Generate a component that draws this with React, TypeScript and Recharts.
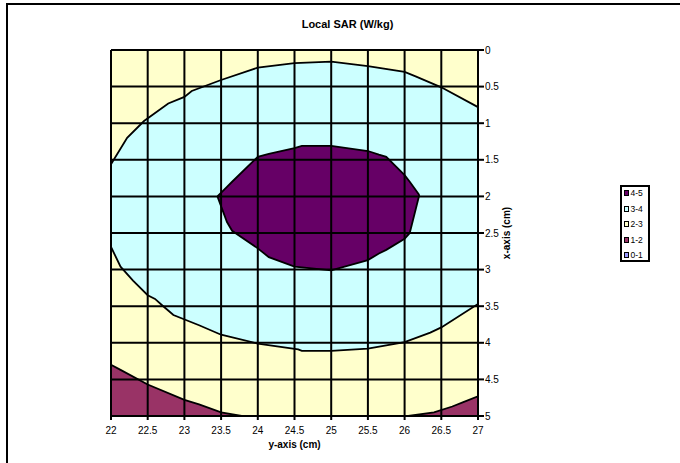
import React from 'react';
import {
  ComposedChart, Area, XAxis, YAxis, CartesianGrid, Legend, Label,
} from 'recharts';

// horizontal axis = "y-axis (cm)", vertical axis = "x-axis (cm)"
const yTicks = [22, 22.5, 23, 23.5, 24, 24.5, 25, 25.5, 26, 26.5, 27];
const xTicks = [0, 0.5, 1, 1.5, 2, 2.5, 3, 3.5, 4, 4.5, 5];

// 3-4 band, upper edge
const band34TopY = [22, 22.22, 22.45, 22.78, 23.0, 23.1, 23.5, 24.0, 24.5, 25.0, 25.5, 26.0, 26.15, 26.5, 27];
const band34TopX = [1.56, 1.2, 0.97, 0.73, 0.64, 0.56, 0.41, 0.24, 0.18, 0.16, 0.22, 0.3, 0.36, 0.51, 0.78];

// 3-4 band, lower edge
const band34BottomY = [22, 22.13, 22.3, 22.5, 22.6, 22.7, 22.85, 23.2, 23.5, 24.0, 24.55, 24.6, 25.0, 25.5, 26.0, 26.35, 26.5, 27];
const band34BottomX = [2.69, 2.96, 3.15, 3.35, 3.4, 3.49, 3.62, 3.76, 3.89, 4.01, 4.09, 4.11, 4.11, 4.08, 3.99, 3.86, 3.79, 3.47];

// 4-5 core
const band45Y = [23.45, 23.58, 23.65, 24.0, 24.15, 24.5, 24.6, 25.0, 25.5, 25.65, 25.75, 26.0, 26.07, 26.2];
const band45TopX = [2.0, 1.87, 1.8, 1.46, 1.42, 1.34, 1.31, 1.31, 1.38, 1.43, 1.46, 1.71, 1.8, 1.98];
const band45BottomX = [2.0, 2.35, 2.47, 2.71, 2.83, 2.96, 2.97, 3.01, 2.87, 2.78, 2.73, 2.58, 2.5, 1.98];

// 1-2 corners at the bottom
const band12LeftY = [22, 22.13, 22.5, 23.0, 23.2, 23.5, 23.78];
const band12LeftX = [4.3, 4.37, 4.57, 4.78, 4.84, 4.95, 5.0];
const band12RightY = [26.05, 26.4, 26.65, 26.8, 27];
const band12RightX = [5.0, 4.95, 4.87, 4.81, 4.73];

const legendLabels = ['4-5', '3-4', '2-3', '1-2', '0-1'];
const legendColors = ['#660066', '#CCFFFF', '#FFFFCC', '#993366', '#9999FF'];

const zip = (ys: number[], xs: number[]) => ys.map((y, i) => ({ y, x: xs[i] }));

const cyanData = zip(band34TopY, band34TopX);
const yellowData = zip(band34BottomY, band34BottomX);
const coreData = band45Y.map((y, i) => ({ y, x: [band45TopX[i], band45BottomX[i]] }));
const leftCorner = zip(band12LeftY, band12LeftX);
const rightCorner = zip(band12RightY, band12RightX);

const FONT = '"Liberation Sans", Arial, sans-serif';

function ContourLegend() {
  return (
    <div style={{
      position: 'relative', width: 30, height: 77, boxSizing: 'border-box',
      border: '2px solid #000', background: '#fff', fontFamily: FONT,
    }}>
      {legendLabels.map((lab, i) => (
        <div key={lab} style={{ position: 'absolute', left: 2, top: -1 + i * 15.5, height: 14, display: 'flex', alignItems: 'center' }}>
          <span style={{
            display: 'inline-block', width: 5, height: 6, boxSizing: 'border-box',
            border: '1.5px solid #000', background: legendColors[i],
          }} />
          <span style={{ fontSize: 8.5, color: '#000', marginLeft: 1.5, lineHeight: '14px' }}>{lab}</span>
        </div>
      ))}
    </div>
  );
}

export default function App() {
  return (
    <div style={{ position: 'fixed', left: 0, top: 0, width: 680, height: 463, overflow: 'hidden', background: '#fff' }}>
      <div style={{
        position: 'absolute', left: 6, top: 3, width: 720, height: 500, border: '2px solid #000',
      }} />
      <div style={{
        position: 'absolute', left: 0, top: 19, width: 695, textAlign: 'center',
        fontFamily: FONT, fontWeight: 'bold', fontSize: 11, lineHeight: '11px', color: '#000',
      }}>
        Local SAR (W/kg)
      </div>
      <div style={{ position: 'absolute', left: 0, top: 0 }}>
        <ComposedChart
          width={680}
          height={463}
          margin={{ top: 50, left: 111, right: 146, bottom: 15 }}
          style={{ fontFamily: FONT }}
        >
          <CartesianGrid horizontal={false} vertical={false} fill="#FFFFCC" />
          <XAxis
            type="number"
            dataKey="y"
            domain={[22, 27]}
            ticks={yTicks}
            allowDataOverflow
            height={32}
            tickSize={4}
            tickMargin={7}
            tick={{ fontSize: 10, fill: '#000' }}
            axisLine={{ stroke: '#000', strokeWidth: 2 }}
            tickLine={{ stroke: '#000', strokeWidth: 2 }}
          >
            <Label value="y-axis (cm)" position="insideBottom" offset={0}
              style={{ fontSize: 10, fontWeight: 'bold', fill: '#000' }} />
          </XAxis>
          <YAxis
            type="number"
            dataKey="x"
            orientation="right"
            reversed
            domain={[0, 5]}
            ticks={xTicks}
            allowDataOverflow
            width={56}
            tickSize={6}
            tickMargin={1}
            tick={{ fontSize: 10, fill: '#000' }}
            axisLine={{ stroke: '#000', strokeWidth: 2 }}
            tickLine={{ stroke: '#000', strokeWidth: 2 }}
          >
            <Label value="x-axis (cm)" position="center" angle={-90}
              style={{ fontSize: 10, fontWeight: 'bold', fill: '#000', textAnchor: 'middle' }} />
          </YAxis>
          <Area data={cyanData} dataKey="x" type="linear" baseValue={5} fill="#CCFFFF" fillOpacity={1}
            stroke="#000" strokeWidth={1.8} isAnimationActive={false} dot={false} activeDot={false} />
          <Area data={yellowData} dataKey="x" type="linear" baseValue={5} fill="#FFFFCC" fillOpacity={1}
            stroke="#000" strokeWidth={1.8} isAnimationActive={false} dot={false} activeDot={false} />
          <Area data={coreData} dataKey="x" type="linear" fill="#660066" fillOpacity={1}
            stroke="#000" strokeWidth={1.8} isAnimationActive={false} dot={false} activeDot={false} />
          <Area data={leftCorner} dataKey="x" type="linear" baseValue={5} fill="#993366" fillOpacity={1}
            stroke="#000" strokeWidth={1.8} isAnimationActive={false} dot={false} activeDot={false} />
          <Area data={rightCorner} dataKey="x" type="linear" baseValue={5} fill="#993366" fillOpacity={1}
            stroke="#000" strokeWidth={1.8} isAnimationActive={false} dot={false} activeDot={false} />
          <CartesianGrid stroke="#000" strokeWidth={2} strokeOpacity={1} fill="none" zIndex={550}
            horizontalValues={xTicks} verticalValues={yTicks} />
          <Legend
            layout="horizontal"
            align="center"
            verticalAlign="middle"
            wrapperStyle={{ left: 620, top: 185, width: 30, height: 77 }}
            content={() => <ContourLegend />}
          />
        </ComposedChart>
      </div>
    </div>
  );
}
